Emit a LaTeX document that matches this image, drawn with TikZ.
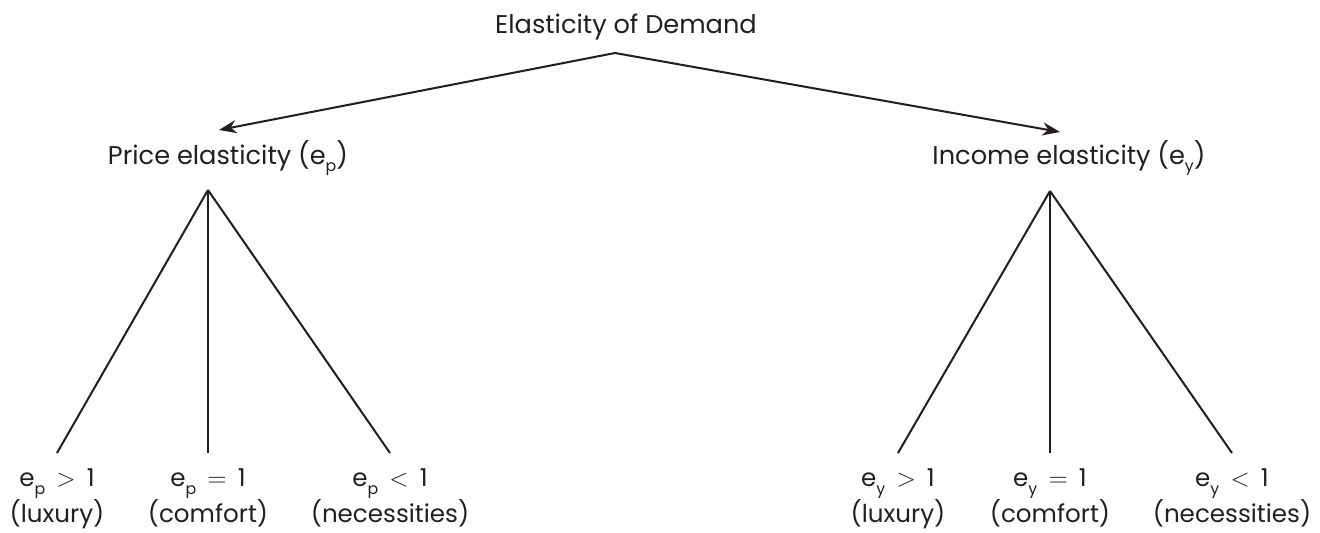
\documentclass[tikz,border=0pt]{standalone}
\usepackage{fontspec}
\setmainfont{Poppins}
\usepackage{tikz}
\usetikzlibrary{positioning,arrows.meta}
\definecolor{inkgray}{RGB}{35,31,32}
\newcommand{\lowsub}[1]{\raisebox{-0.55ex}{\fontsize{9}{9}\selectfont #1}}

\begin{document}
\begin{tikzpicture}[
	x=0.02cm, y=-0.02cm,
	label_txt/.style={ % chữ tiêu đề
		font=\fontsize{14.6}{19.5}\selectfont,
		text=inkgray,
		inner sep=0pt,
		anchor=base
	},
	leaf/.style={ % ô lá ở dưới
		font=\fontsize{14}{19.4}\selectfont,
		text=inkgray,
		inner sep=0pt,
		align=center,
		anchor=north,
		outer ysep=9pt
	},
	branch/.style={ % nhánh cây
		inkgray, line width=1.15pt
	},
	split_arrow/.style={ % mũi tên tách
		-{Stealth[length=10pt,width=7.5pt]},
		inkgray, line width=1.15pt
	}
	]
	\useasboundingbox (0,0) rectangle (1320,532);
	
	% ================= GỐC =================
	\node[label_txt] (root) at (626,33) {Elasticity of Demand};
	\coordinate (split) at (615,53);
	
	\node[label_txt] (price) at (228,164) {Price elasticity (e\lowsub{p})};
	\node[label_txt] (income) at (1069,164) {Income elasticity (e\lowsub{y})};
	\coordinate (tipP) at (219,130);
	\coordinate (tipY) at (1060,132);
	\draw[split_arrow] (split) -- (tipP);
	\draw[split_arrow] (split) -- (tipY);
	
	% ================= NHÁNH TRÁI (e_p) =================
	\coordinate (topP) at (208,190);
	\foreach \x/\sym/\txt [count=\j] in {57/>/luxury, 208/=/comfort, 390/</necessities} {
		\node[leaf] (lp-\j) at (\x,453) {e\lowsub{p}\,${}\sym{}$\,1\\(\txt)};
		\draw[branch] (topP) -- (lp-\j.north);
	}
	
	% ================= NHÁNH PHẢI (e_y) =================
	\coordinate (topY) at (1050,191);
	\foreach \x/\sym/\txt [count=\j] in {898/>/luxury, 1050/=/comfort, 1232/</necessities} {
		\node[leaf] (ly-\j) at (\x,453) {e\lowsub{y}\,${}\sym{}$\,1\\(\txt)};
		\draw[branch] (topY) -- (ly-\j.north);
	}
	
\end{tikzpicture}
\end{document}
